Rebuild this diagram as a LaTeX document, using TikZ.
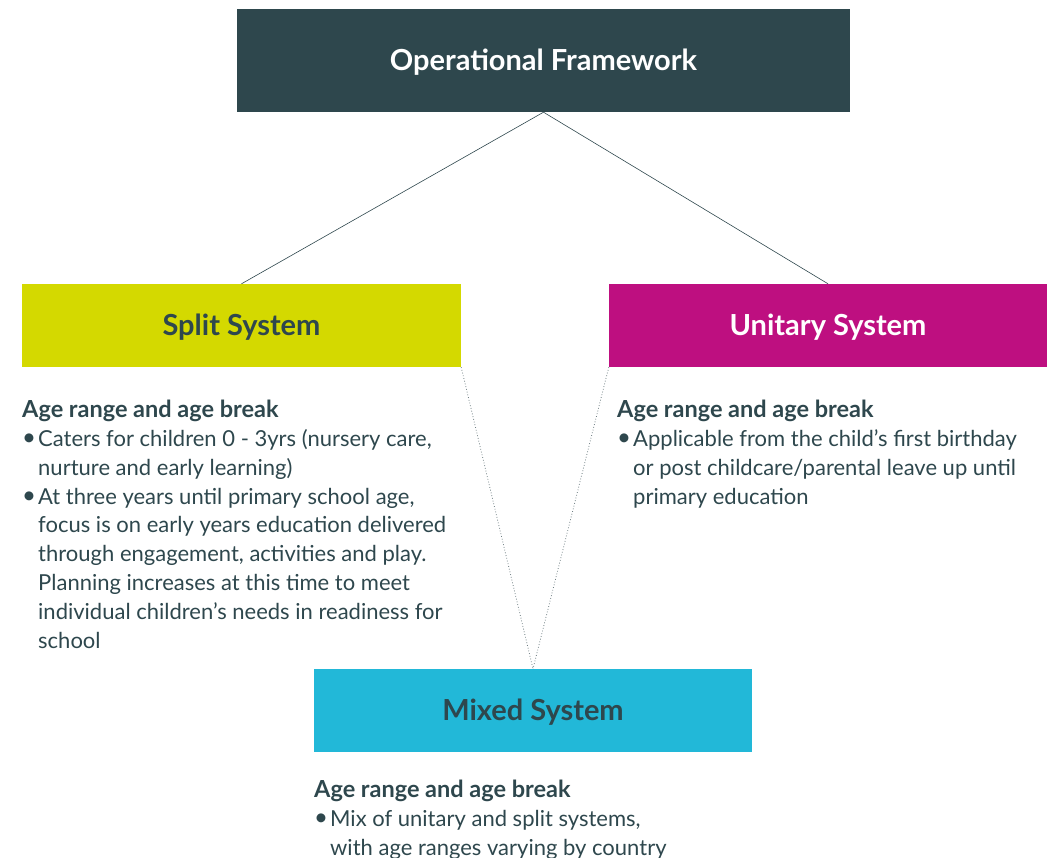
\documentclass[tikz,border=0pt]{standalone}
\usepackage{fontspec}
\setmainfont{Lato}
\definecolor{darkteal}{HTML}{2E474D}
\definecolor{lime}{HTML}{D4D900}
\definecolor{magenta}{HTML}{BE0F80}
\definecolor{cyanbox}{HTML}{22B8D8}
\definecolor{dotgrey}{HTML}{6F7F83}
\newcommand{\nl}{\hfil\break}
\newcommand{\bitem}[1]{\par\hangindent=16pt\hangafter=1\noindent\makebox[16pt][l]{\raisebox{0.5pt}{\fontsize{24}{24}\selectfont\textbullet}}#1}
\newcommand{\descbox}[1]{\begin{minipage}[t]{440pt}\fontsize{22}{28.8}\selectfont\parindent=0pt #1\end{minipage}}
\newcommand{\deschead}{{\fontsize{23.5}{28.8}\selectfont\bfseries Age range and age break}}
\begin{document}
\begin{tikzpicture}[x=1pt,y=-1pt,
  titlebox/.style={draw=none,inner sep=0pt,font=\fontsize{29}{32}\selectfont\bfseries,align=center,text height=20.5pt,text depth=0pt},
  desc/.style={anchor=north west,inner sep=0pt,text=darkteal},
  solidline/.style={draw=darkteal,line width=0.6pt},
  dotline/.style={draw=dotgrey,line width=0.8pt,dotted}]
\useasboundingbox (0,0) rectangle (1053,858);
\node[titlebox,fill=darkteal,text=white,minimum width=613pt,minimum height=103pt] (of) at (543.5,60.5) {Operational Framework};
\node[titlebox,fill=lime,text=darkteal,minimum width=439pt,minimum height=83pt] (split) at (241.5,325.5) {Split System};
\node[titlebox,fill=magenta,text=white,minimum width=438pt,minimum height=83pt] (unitary) at (828,325.5) {Unitary System};
\node[titlebox,fill=cyanbox,text=darkteal,minimum width=438pt,minimum height=83pt] (mixed) at (533,710.5) {Mixed System};
\draw[solidline] (of.south) -- (split.north);
\draw[solidline] (of.south) -- (unitary.north);
\draw[dotline] (split.south east) -- (mixed.north);
\draw[dotline] (unitary.south west) -- (mixed.north);
\node[desc] (splittext) at (22,400) {\descbox{\deschead
\bitem{Caters for children 0 - 3yrs (nursery care,\nl nurture and early learning)}
\bitem{At three years until primary school age,\nl focus is on early years education delivered\nl through engagement, activities and play.\nl Planning increases at this time to meet\nl individual children’s needs in readiness for\nl school}}};
\node[desc] (unitarytext) at (617,400) {\descbox{\deschead
\bitem{Applicable from the child’s first birthday\nl or post childcare/parental leave up until\nl primary education}}};
\node[desc] (mixedtext) at (314,780) {\descbox{\deschead
\bitem{Mix of unitary and split systems,\nl with age ranges varying by country}}};
\end{tikzpicture}
\end{document}
